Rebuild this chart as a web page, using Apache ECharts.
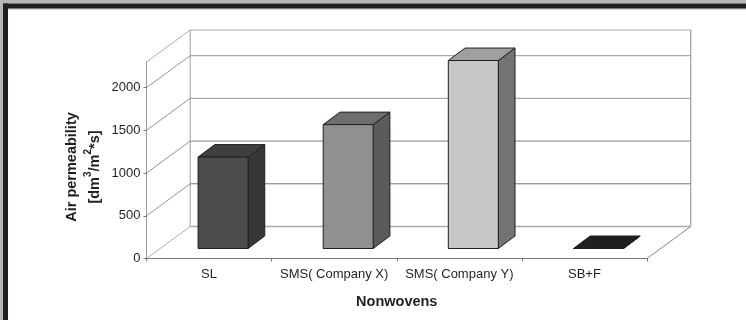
<!DOCTYPE html>
<html>
<head>
<meta charset="utf-8">
<style>html,body{margin:0;padding:0;background:#fff}#chart{width:746px;height:320px}</style>
<script src="https://cdn.jsdelivr.net/npm/echarts@6/dist/echarts.min.js"></script>
</head>
<body>
<div id="chart"></div>
<script>
// Air permeability of the tested nonwovens
const categories = ['SL', 'SMS( Company X)', 'SMS( Company Y)', 'SB+F'];
const permeability = [1070, 1450, 2200, 0];
const wallLevels = [0, 500, 1000, 1500, 2000, 2300];

// Shades per bar: front, top, side
const frontColors = ['#4d4b4c', '#918f90', '#c8c8c8', '#231f20'];
const topColors = ['#403e3f', '#6e6c6d', '#a09e9f', '#231f20'];
const sideColors = ['#383637', '#5c5a5b', '#757374', '#231f20'];
// Wall line shade per level
const wallColors = ['#aaaaaa', '#777777', '#808080', '#aaaaaa', '#aaaaaa', '#aaaaaa'];
const wallWidths = [1.4, 1, 1, 1.4, 1.4, 1];

const WALL_DX = 43.7, WALL_DY = -32;      // depth of the chart box
const BAR_X = 14, BAR_Y = -10;            // bars stand inside the box
const BAR_W = 50, BAR_DX = 16.7, BAR_DY = -12.5; // bar width and depth

const line = (x1, y1, x2, y2, color, width) => ({
  type: 'line', shape: { x1, y1, x2, y2 }, style: { stroke: color, lineWidth: width }
});

function renderWall(params, api) {
  const i = params.dataIndex;
  const cs = params.coordSys;
  const y = api.coord([0, api.value(0)])[1];
  const x0 = cs.x, x1 = cs.x + WALL_DX, x2 = cs.x + cs.width + WALL_DX;
  const children = [
    line(x0, y, x1, y + WALL_DY, i === 0 || i === 5 ? '#999999' : '#777777', 0.8),
    line(x1, y + WALL_DY, x2, y + WALL_DY, wallColors[i], wallWidths[i])
  ];
  if (i === 0) {
    // floor edge on the right and the two vertical wall edges
    children.push(
      line(cs.x + cs.width, y, x2, y + WALL_DY, '#666666', 0.8),
      line(x1, y + WALL_DY, x1, cs.y + WALL_DY, '#aaaaaa', 1.2),
      line(x2, y + WALL_DY, x2, cs.y + WALL_DY, '#aaaaaa', 1.4)
    );
  }
  return { type: 'group', children };
}

function renderBar(params, api) {
  const i = params.dataIndex;
  const base = api.coord([i, 0]);
  const head = api.coord([i, api.value(1)]);
  const l = base[0] + BAR_X - BAR_W / 2, r = l + BAR_W;
  const b = base[1] + BAR_Y, t = head[1] + BAR_Y;
  const edge = '#231f20';
  const poly = (points, fill) => ({
    type: 'polygon', shape: { points },
    style: { fill, stroke: edge, lineWidth: 1, lineJoin: 'round' }
  });
  return {
    type: 'group',
    children: [
      poly([[r, b], [r + BAR_DX, b + BAR_DY], [r + BAR_DX, t + BAR_DY], [r, t]], sideColors[i]),
      poly([[l, t], [r, t], [r + BAR_DX, t + BAR_DY], [l + BAR_DX, t + BAR_DY]], topColors[i]),
      poly([[l, b], [r, b], [r, t], [l, t]], frontColors[i])
    ]
  };
}

const titleFont = 'bold 14.5px "Liberation Sans", Arial, sans-serif';

const chart = echarts.init(document.getElementById('chart'), null, { renderer: 'canvas' });
chart.setOption({
  animation: false,
  backgroundColor: '#ffffff',
  textStyle: { fontFamily: '"Liberation Sans", Arial, sans-serif' },
  grid: { left: 146.5, right: 99, top: 62, bottom: 61.5, containLabel: false },
  xAxis: {
    type: 'category',
    data: categories,
    name: 'Nonwovens',
    nameLocation: 'middle',
    nameGap: 36,
    nameTextStyle: { color: '#231f20', fontSize: 14.5, fontWeight: 'bold' },
    axisLine: { lineStyle: { color: '#777777', width: 1 } },
    axisTick: { show: true, length: 3, alignWithLabel: false, lineStyle: { color: '#777777' } },
    axisLabel: { interval: 0, color: '#231f20', fontSize: 13, margin: 9 },
    splitLine: { show: false }
  },
  yAxis: {
    type: 'value',
    min: 0,
    max: 2300,
    interval: 500,
    axisLine: { show: true, lineStyle: { color: '#999999', width: 1 } },
    axisTick: { show: true, length: 3, lineStyle: { color: '#777777' } },
    axisLabel: { color: '#231f20', fontSize: 13, margin: 6, showMaxLabel: false, formatter: v => String(v) },
    splitLine: { show: false }
  },
  series: [
    {
      type: 'custom',
      coordinateSystem: 'cartesian2d',
      renderItem: renderWall,
      data: wallLevels.map(v => [v]),
      encode: { y: 0 },
      silent: true,
      z: 1
    },
    {
      type: 'custom',
      coordinateSystem: 'cartesian2d',
      renderItem: renderBar,
      data: permeability.map((v, i) => [i, v]),
      encode: { x: 0, y: 1 },
      silent: true,
      z: 3
    }
  ],
  graphic: [
    { type: 'rect', z: 10, shape: { x: 0, y: 0, width: 746, height: 3.5 }, style: { fill: '#b7b7b7' } },
    { type: 'rect', z: 10, shape: { x: 0, y: 0, width: 3, height: 320 }, style: { fill: '#b7b7b7' } },
    { type: 'rect', z: 11, shape: { x: 3, y: 3.5, width: 743, height: 5 }, style: { fill: '#231f20' } },
    { type: 'rect', z: 11, shape: { x: 3, y: 3.5, width: 5, height: 316.5 }, style: { fill: '#231f20' } },
    { type: 'rect', z: 10, shape: { x: 8, y: 8.5, width: 738, height: 1 }, style: { fill: '#b0b0b0' } },
    {
      type: 'text', z: 12, rotation: Math.PI / 2, x: 83, y: 167,
      style: {
        text: 'Air permeability\n{plain|[dm}{sup|3}{plain|/m}{sup|2}{plain|*s]}',
        fill: '#231f20',
        font: titleFont,
        align: 'center',
        verticalAlign: 'middle',
        lineHeight: 23,
        rich: {
          plain: { font: titleFont, fill: '#231f20', lineHeight: 23 },
          sup: { font: 'bold 10px "Liberation Sans", Arial, sans-serif', fill: '#231f20', verticalAlign: 'top', lineHeight: 23 }
        }
      }
    }
  ]
});
</script>
</body>
</html>
